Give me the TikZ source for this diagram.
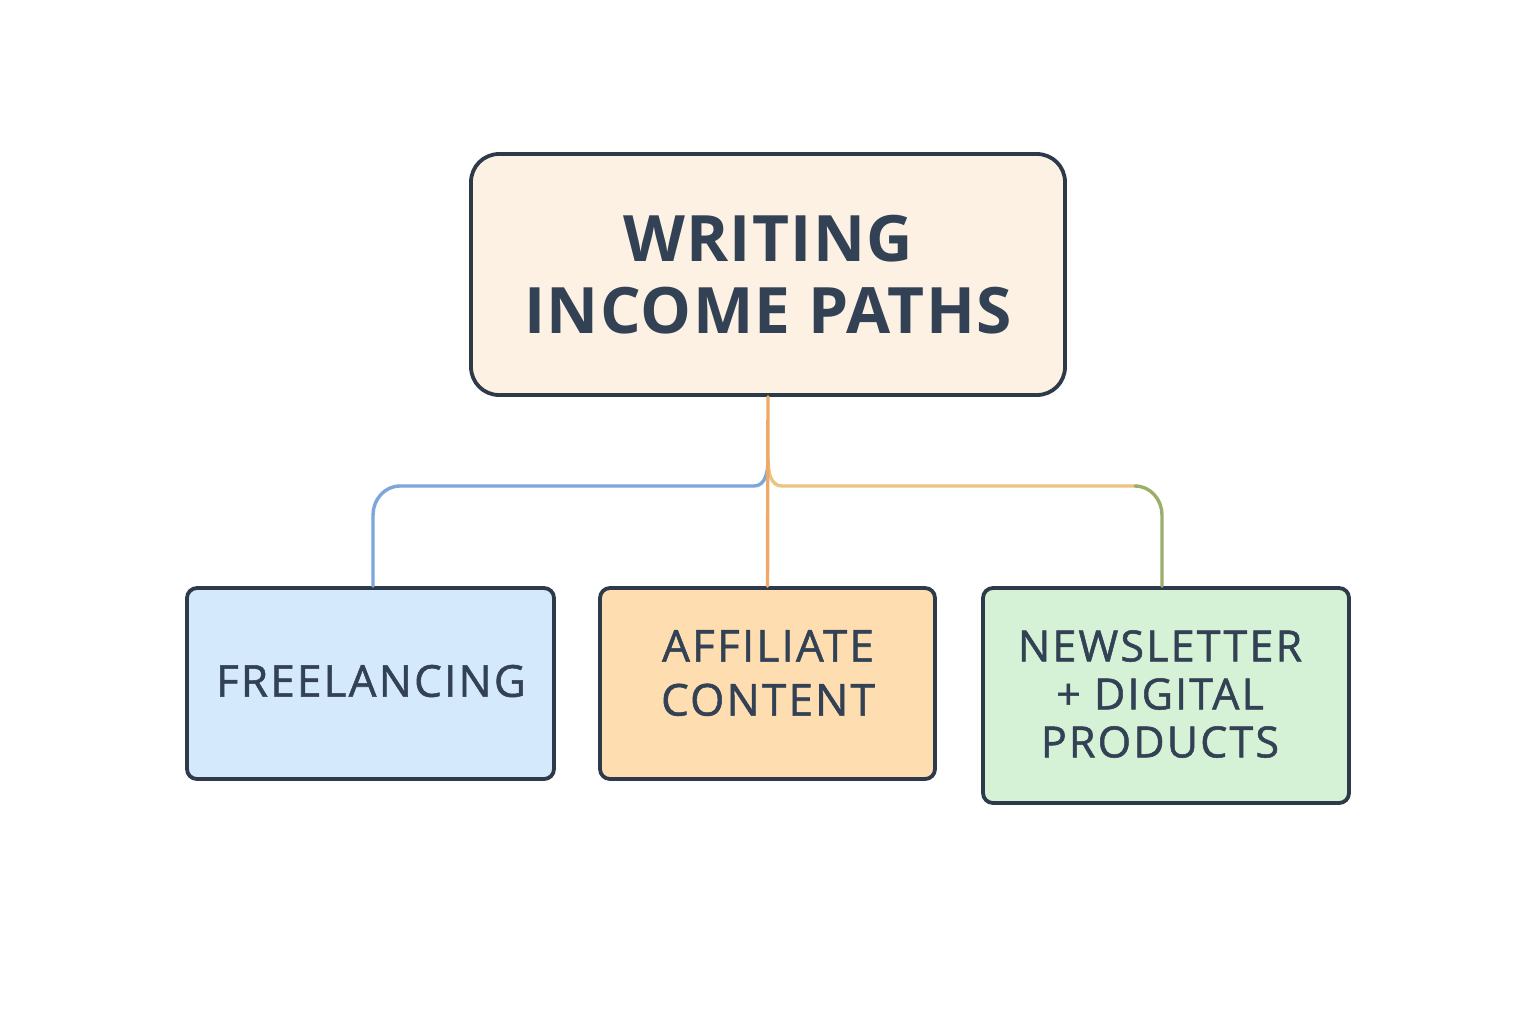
\documentclass[tikz,border=0pt]{standalone}
\usepackage{fontspec}
\setmainfont{Open Sans}
\newfontfamily\titlefont[LetterSpace=2]{Open Sans}
\newfontfamily\kidfont[LetterSpace=5,FakeBold=1.2]{Open Sans}
\definecolor{ink}{HTML}{334155}
\definecolor{edge}{HTML}{2E3A4A}
\definecolor{topfill}{HTML}{FDF1E3}
\definecolor{bluefill}{HTML}{D4EAFC}
\definecolor{orangefill}{HTML}{FEDDB0}
\definecolor{greenfill}{HTML}{D5F1D6}
\definecolor{blueline}{HTML}{7BA7D9}
\definecolor{orangeline}{HTML}{F0A868}
\definecolor{yellowline}{HTML}{EDC47E}
\definecolor{greenline}{HTML}{9BAE6A}
\begin{document}
\begin{tikzpicture}[x=0.5pt,y=-0.5pt,
  box/.style={draw=edge,line width=1.9pt,rounded corners=5pt,inner sep=0pt,text=ink,align=center},
  kid/.style={text=ink,align=center,inner sep=0pt,font=\kidfont\fontsize{22}{26}\selectfont},
  conn/.style={line width=1.7pt,line cap=round}]
\useasboundingbox[fill=white] (0,0) rectangle (1536,1024);
\node[box,fill=topfill,rounded corners=14pt,minimum width=297pt,minimum height=120.5pt,
  font=\titlefont\bfseries\fontsize{32}{36}\selectfont] (top) at (768,274.5) {WRITING\\INCOME PATHS};
\node[box,fill=bluefill,minimum width=183.5pt,minimum height=95.5pt] (free) at (370.5,683.5) {};
\node[kid] (freet) at (371,681) {FREELANCING};
\node[box,fill=orangefill,minimum width=167.5pt,minimum height=95.5pt] (aff) at (767.5,683.5) {};
\node[kid,font=\kidfont\fontsize{22}{27}\selectfont] (afft) at (768,673) {AFFILIATE\\CONTENT};
\node[box,fill=greenfill,minimum width=183pt,minimum height=107.5pt] (news) at (1166,695.5) {};
\node[kid,font=\kidfont\fontsize{21.5}{24}\selectfont] (newst) at (1160,694) {NEWSLETTER\\+ DIGITAL\\PRODUCTS};
\coordinate (j) at (768,460);
\draw[conn,blueline] (j) to[out=-90,in=0] (754,486) -- (400,486) to[out=180,in=90] (373,515) -- (free.north -| 373,0);
\draw[conn,yellowline] (j) to[out=-90,in=180] (782,486) -- (1135,486);
\draw[conn,greenline] (1135,486) to[out=0,in=90] (1162,515) -- (news.north -| 1162,0);
\draw[conn,orangeline] (top.south) -- (aff.north);
\end{tikzpicture}
\end{document}
